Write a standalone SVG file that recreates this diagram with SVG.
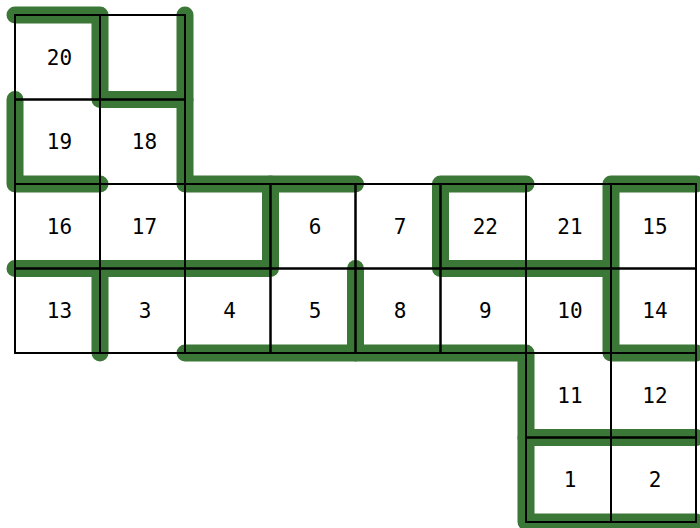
<svg xmlns="http://www.w3.org/2000/svg" width="700" height="528" viewBox="0 0 700 528">
<style>
.g{fill:none;stroke:#3b7736;stroke-width:17;stroke-linecap:round;stroke-linejoin:round}
.c{fill:none;stroke:#000;stroke-width:2}
.t{font-family:"DejaVu Sans Mono",monospace;font-size:21px;text-anchor:middle;fill:#000}
</style>
<rect width="700" height="528" fill="#fff"/>
<g id="connectors">
<path class="g" d="M15,15 H100 V99.5 H185"/>
<path class="g" d="M185,15 V184 H355.5"/>
<path class="g" d="M15,99.5 V184 H100"/>
<path class="g" d="M270.5,184 V268.5 H15"/>
<path class="g" d="M100,268.5 V353"/>
<path class="g" d="M355.5,268.5 V353"/>
<path class="g" d="M185,353 H526 V522 H696"/>
<path class="g" d="M526,184 H440.5 V268.5 H611"/>
<path class="g" d="M696,184 H611 V353 H696"/>
<path class="g" d="M526,437.5 H696"/>
</g>
<g id="c20"><rect class="c" x="15" y="15" width="85" height="84.5"/><text class="t" x="59.5" y="64.5">20</text></g>
<g id="cE1"><rect class="c" x="100" y="15" width="85" height="84.5"/></g>
<g id="c19"><rect class="c" x="15" y="99.5" width="85" height="84.5"/><text class="t" x="59.5" y="149">19</text></g>
<g id="c18"><rect class="c" x="100" y="99.5" width="85" height="84.5"/><text class="t" x="144.5" y="149">18</text></g>
<g id="c16"><rect class="c" x="15" y="184" width="85" height="84.5"/><text class="t" x="59.5" y="233.5">16</text></g>
<g id="c17"><rect class="c" x="100" y="184" width="85" height="84.5"/><text class="t" x="144.5" y="233.5">17</text></g>
<g id="cE2"><rect class="c" x="185" y="184" width="85.5" height="84.5"/></g>
<g id="c6"><rect class="c" x="270.5" y="184" width="85" height="84.5"/><text class="t" x="315" y="233.5">6</text></g>
<g id="c7"><rect class="c" x="355.5" y="184" width="85" height="84.5"/><text class="t" x="400" y="233.5">7</text></g>
<g id="c22"><rect class="c" x="440.5" y="184" width="85.5" height="84.5"/><text class="t" x="485.3" y="233.5">22</text></g>
<g id="c21"><rect class="c" x="526" y="184" width="85" height="84.5"/><text class="t" x="570" y="233.5">21</text></g>
<g id="c15"><rect class="c" x="611" y="184" width="85" height="84.5"/><text class="t" x="655" y="233.5">15</text></g>
<g id="c13"><rect class="c" x="15" y="268.5" width="85" height="84.5"/><text class="t" x="59.5" y="318">13</text></g>
<g id="c3"><rect class="c" x="100" y="268.5" width="85" height="84.5"/><text class="t" x="145" y="318">3</text></g>
<g id="c4"><rect class="c" x="185" y="268.5" width="85.5" height="84.5"/><text class="t" x="229.5" y="318">4</text></g>
<g id="c5"><rect class="c" x="270.5" y="268.5" width="85" height="84.5"/><text class="t" x="315" y="318">5</text></g>
<g id="c8"><rect class="c" x="355.5" y="268.5" width="85" height="84.5"/><text class="t" x="400" y="318">8</text></g>
<g id="c9"><rect class="c" x="440.5" y="268.5" width="85.5" height="84.5"/><text class="t" x="485.3" y="318">9</text></g>
<g id="c10"><rect class="c" x="526" y="268.5" width="85" height="84.5"/><text class="t" x="570" y="318">10</text></g>
<g id="c14"><rect class="c" x="611" y="268.5" width="85" height="84.5"/><text class="t" x="655" y="318">14</text></g>
<g id="c11"><rect class="c" x="526" y="353" width="85" height="84.5"/><text class="t" x="570" y="402.5">11</text></g>
<g id="c12"><rect class="c" x="611" y="353" width="85" height="84.5"/><text class="t" x="655" y="402.5">12</text></g>
<g id="c1"><rect class="c" x="526" y="437.5" width="85" height="84.5"/><text class="t" x="570" y="487">1</text></g>
<g id="c2"><rect class="c" x="611" y="437.5" width="85" height="84.5"/><text class="t" x="655" y="487">2</text></g>
</svg>
